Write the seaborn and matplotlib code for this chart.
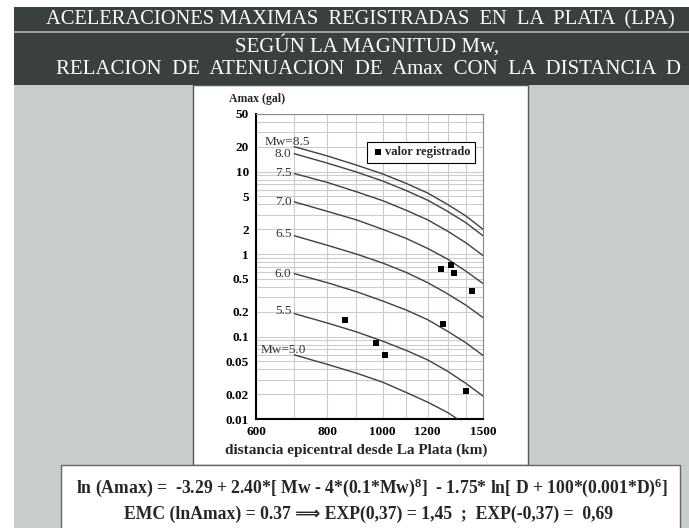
import matplotlib
matplotlib.use('Agg')
import matplotlib.pyplot as plt
import seaborn as sns
import pandas as pd
from matplotlib.patches import Rectangle
from matplotlib.ticker import FixedLocator, FixedFormatter, NullFormatter

# ---------------- data ----------------
dist_km = [700, 800, 900, 1000, 1100, 1200, 1300, 1400, 1500]
mw_85 = [20.1, 15.5, 12.0, 9.4, 7.2, 5.5, 4.0, 2.9, 2.0]
mw_80 = [16.5, 12.7, 9.9, 7.7, 5.9, 4.5, 3.3, 2.4, 1.67]
mw_75 = [9.5, 7.4, 5.7, 4.45, 3.4, 2.6, 1.9, 1.37, 0.96]
mw_70 = [4.3, 3.3, 2.6, 2.0, 1.55, 1.17, 0.87, 0.62, 0.44]
mw_65 = [1.67, 1.28, 1.0, 0.78, 0.6, 0.45, 0.33, 0.24, 0.17]
mw_60 = [0.58, 0.45, 0.35, 0.27, 0.21, 0.16, 0.116, 0.084, 0.059]
mw_55 = [0.19, 0.146, 0.114, 0.088, 0.068, 0.052, 0.038, 0.027, 0.019]
mw_50 = [0.060, 0.046, 0.036, 0.028, 0.021, 0.016, 0.012, 0.0086, 0.006]
curve_names = ['8.5', '8.0', '7.5', '7.0', '6.5', '6.0', '5.5', '5.0']
curve_labels = ['Mw=8.5', '8.0', '7.5', '7.0', '6.5', '6.0', '5.5', 'Mw=5.0']
curves = [mw_85, mw_80, mw_75, mw_70, mw_65, mw_60, mw_55, mw_50]

rec_dist = [858, 975, 1010, 1265, 1320, 1335, 1435, 1275, 1400]
rec_amax = [0.16, 0.083, 0.060, 0.66, 0.74, 0.59, 0.36, 0.14, 0.022]

x_ticks = [600, 800, 1000, 1200, 1500]
x_ticklabels = ['600', '800', '1000', '1200', '1500']
x_minor = [700, 900, 1100, 1300, 1400]
y_ticks = [0.01, 0.02, 0.05, 0.1, 0.2, 0.5, 1, 2, 5, 10, 20, 50]
y_ticklabels = ['0.01', '0.02', '0.05', '0.1', '0.2', '0.5', '1', '2', '5', '10', '20', '50']
y_minor = [0.03, 0.04, 0.06, 0.07, 0.08, 0.09, 0.3, 0.4, 0.6, 0.7, 0.8, 0.9,
           3, 4, 6, 7, 8, 9, 30, 40]

title1 = 'ACELERACIONES MAXIMAS  REGISTRADAS  EN  LA  PLATA  (LPA)'
title2 = 'SEGÚN LA MAGNITUD Mw,'
title3 = 'RELACION  DE  ATENUACION  DE  Amax  CON  LA  DISTANCIA  D'
y_title = 'Amax (gal)'
x_title = 'distancia epicentral desde La Plata (km)'
legend_label = 'valor registrado'
formula1 = r'ln (Amax) =  -3.29 + 2.40*[ Mw - 4*(0.1*Mw)$^{8}$]  - 1.75* ln[ D + 100*(0.001*D)$^{6}$]'
formula2 = 'EMC (lnAmax) = 0.37 \u27F9 EXP(0,37) = 1,45  ;  EXP(-0,37) =  0,69'

# ---------------- style ----------------
sns.set_style('white')
plt.rcParams['font.family'] = ['Liberation Serif', 'DejaVu Serif']
plt.rcParams['mathtext.fontset'] = 'custom'
plt.rcParams['mathtext.rm'] = 'Liberation Serif:bold'
plt.rcParams['mathtext.bf'] = 'Liberation Serif:bold'
plt.rcParams['mathtext.it'] = 'Liberation Serif:bold:italic'

W, H = 689, 528
fig = plt.figure(figsize=(W / 100, H / 100), dpi=100, facecolor='white')


def rect(x0, y0, x1, y1, **kw):
    fig.patches.append(Rectangle((x0 / W, 1 - y1 / H), (x1 - x0) / W, (y1 - y0) / H,
                                 transform=fig.transFigure, figure=fig, **kw))


rect(14, 85, 689, 528, fc='#c9cccd', ec='none', zorder=-10)
rect(14, 7, 689, 85, fc='#3a3f3f', ec='none', zorder=-9)
rect(14, 30.5, 689, 32.5, fc='#9aa0a0', ec='none', zorder=-8)
rect(193, 85, 528, 465, fc='white', ec='#555555', lw=1.0, zorder=-7)
rect(61, 465, 680, 540, fc='white', ec='#666666', lw=1.0, zorder=-6)

ax = fig.add_axes([256 / W, 1 - 419 / H, (483 - 256) / W, (419 - 114) / H])
ax.set_facecolor('white')
ax.set_xscale('log')
ax.set_yscale('log')

rows = []
for name, vals in zip(curve_names, curves):
    for d, a in zip(dist_km, vals):
        rows.append({'D': d, 'Amax': a, 'Mw': name})
df = pd.DataFrame(rows)

sns.lineplot(data=df, x='D', y='Amax', hue='Mw', palette=['#404040'] * len(curve_names),
             estimator=None, sort=False, legend=False, lw=1.0, ax=ax, zorder=3)
sns.scatterplot(x=rec_dist, y=rec_amax, marker='s', s=14, color='black', edgecolor='black',
                linewidth=0, label=legend_label, ax=ax, zorder=5)

ax.set_xlim(600, 1500)
ax.set_ylim(0.01, 50)
ax.xaxis.set_major_locator(FixedLocator(x_ticks))
ax.xaxis.set_major_formatter(FixedFormatter(x_ticklabels))
ax.xaxis.set_minor_locator(FixedLocator(x_minor))
ax.xaxis.set_minor_formatter(NullFormatter())
ax.yaxis.set_major_locator(FixedLocator(y_ticks))
ax.yaxis.set_major_formatter(FixedFormatter(y_ticklabels))
ax.yaxis.set_minor_locator(FixedLocator(y_minor))
ax.yaxis.set_minor_formatter(NullFormatter())
ax.grid(which='both', color='#cccccc', lw=0.8)
ax.set_axisbelow(True)
ax.tick_params(which='minor', length=0)
ax.tick_params(which='major', length=3, width=0.8, direction='out', labelsize=9.5, pad=2,
               colors='black')
for lab in ax.get_xticklabels() + ax.get_yticklabels():
    lab.set_fontweight('bold')
    lab.set_family(['Liberation Serif', 'DejaVu Serif'])
ax.set_xlabel('')
ax.set_ylabel('')
for s in ['left', 'bottom']:
    ax.spines[s].set_color('black')
    ax.spines[s].set_linewidth(1.5)
for s in ['top', 'right']:
    ax.spines[s].set_color('#888888')
    ax.spines[s].set_linewidth(0.8)

offsets = [(-21, 3, 'left'), (-2, 0, 'right'), (-2, 0, 'right'), (-2, 0, 'right'),
           (-2, 1, 'right'), (-2, 0, 'right'), (-2, 1.5, 'right'), (-24.5, 3.6, 'left')]
for lbl, vals, (dx, dy, ha) in zip(curve_labels, curves, offsets):
    ax.annotate(lbl, xy=(dist_km[0], vals[0]), xytext=(dx, dy), textcoords='offset points',
                ha=ha, va='center', fontsize=9.5, color='#333333')

leg = ax.legend(loc='upper right', bbox_to_anchor=(0.965, 0.908), frameon=True, fancybox=False,
                edgecolor='black', framealpha=1,
                prop={'family': 'Liberation Serif', 'weight': 'bold', 'size': 9},
                handletextpad=0.1, borderpad=0.35, handlelength=1.0, borderaxespad=0)
leg.get_frame().set_linewidth(0.8)

fig.text(257 / W, 1 - 99 / H, y_title, fontsize=8.5, fontweight='bold', ha='center', va='center')
fig.text(356 / W, 1 - 450 / H, x_title, fontsize=11, fontweight='bold', ha='center', va='center')

serif = ['Liberation Serif', 'DejaVu Serif']
fig.text(46 / W, 1 - 20 / H, title1, color='white', fontsize=14.8, ha='left', va='center',
         family=serif)
fig.text(367 / W, 1 - 46 / H, title2, color='white', fontsize=15, ha='center', va='center',
         family=serif)
fig.text(368.5 / W, 1 - 70 / H, title3, color='white', fontsize=15, ha='center', va='center',
         family=serif)

fig.text(372.5 / W, 1 - 488 / H, formula1, fontsize=12.7, fontweight='bold', ha='center',
         va='center')
fig.text(368.5 / W, 1 - 514 / H, formula2, fontsize=12.7, fontweight='bold', ha='center',
         va='center', family=['Liberation Serif', 'DejaVu Sans'])

fig.savefig('out.png', dpi=100)
